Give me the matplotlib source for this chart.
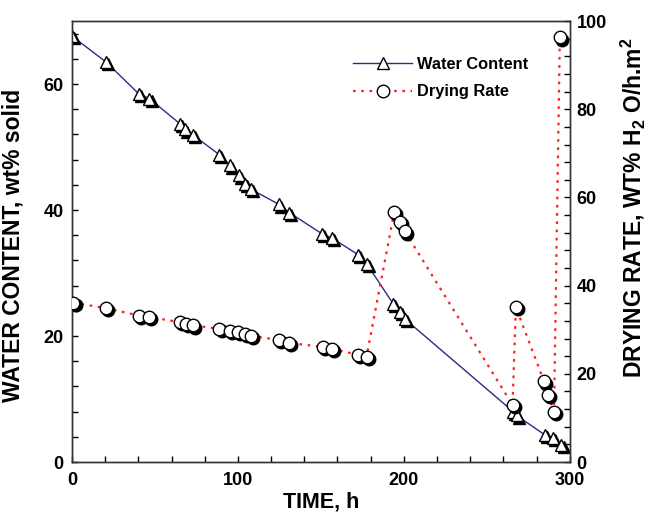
import matplotlib
matplotlib.use('Agg')
import matplotlib.pyplot as plt
from matplotlib.ticker import MultipleLocator
from matplotlib.transforms import offset_copy
from matplotlib.lines import Line2D

plt.rcParams['font.family'] = ['Liberation Sans', 'DejaVu Sans']
plt.rcParams['font.weight'] = 'bold'
plt.rcParams['mathtext.default'] = 'regular'

# water content (left axis)
wc_time = [0, 20.5, 40.4, 46.6, 65, 68, 73, 88.7, 95.2, 100.6, 104.2, 107.8,
           124.7, 130.9, 150.8, 156.4, 172.5, 177.5, 193.6, 197.6, 200.6,
           265.9, 267.9, 285, 290, 295]
wc_value = [67.6, 63.5, 58.4, 57.7, 53.7, 52.8, 51.9, 48.8, 47.1, 45.5, 44.1, 43.3,
            40.9, 39.6, 36.2, 35.6, 32.9, 31.5, 25.1, 23.8, 22.7,
            8.0, 7.4, 4.3, 3.8, 2.7]

# drying rate (right axis)
dr_time = [0.8, 20.5, 40.5, 46.4, 65, 68.7, 72.7, 88.8, 95.2, 100.2, 104.2, 107.8,
           124.7, 130.9, 151.4, 156.4, 172.5, 177.5, 194.2, 197.6, 200.6,
           265.5, 267.5, 284.5, 287, 290.5, 294]
dr_value = [36.1, 34.9, 33.2, 32.9, 31.7, 31.3, 31.0, 30.2, 29.8, 29.5, 29.1, 28.6,
            27.7, 27.0, 26.1, 25.7, 24.3, 23.9, 56.7, 54.4, 52.3,
            12.95, 35.1, 18.3, 15.2, 11.4, 96.3]

fig = plt.figure(figsize=(6.46, 5.13), dpi=100)
ax = fig.add_axes([0.1115, 0.0994, 0.7705, 0.8596])
ax2 = ax.twinx()

def draw_series(axis, x, y, color, ls, lw, marker, ms):
    axis.plot(x, y, color=color, linestyle=ls, linewidth=lw, zorder=1)
    shadow = offset_copy(axis.transData, fig=fig, x=1.6, y=-1.6, units='points')
    axis.plot(x, y, linestyle='none', marker=marker, ms=ms, mfc='black', mec='black',
              transform=shadow, zorder=2)
    axis.plot(x, y, linestyle='none', marker=marker, ms=ms, mfc='white', mec='black',
              mew=1.0, zorder=3)

draw_series(ax, wc_time, wc_value, '#2b2b8c', '-', 1.0, '^', 9)
draw_series(ax2, dr_time, dr_value, '#ff2020', (0, (1.2, 2.5)), 1.6, 'o', 9)

ax.set_xlim(0, 300)
ax.set_ylim(0, 70)
ax2.set_ylim(0, 100)

ax.xaxis.set_major_locator(MultipleLocator(100))
ax.xaxis.set_minor_locator(MultipleLocator(20))
ax.yaxis.set_major_locator(MultipleLocator(20))
ax.yaxis.set_minor_locator(MultipleLocator(4))
ax2.yaxis.set_major_locator(MultipleLocator(20))
ax2.yaxis.set_minor_locator(MultipleLocator(4))

for a in (ax, ax2):
    a.tick_params(which='both', direction='in', length=4, width=1, labelsize=13)
    for s in a.spines.values():
        s.set_linewidth(1.0)
        s.set_color('#333333')
ax.tick_params(axis='x', which='both', top=False, pad=7.5)
ax.tick_params(axis='y', pad=6)
ax2.tick_params(axis='y', pad=5)

ax.set_xlabel('TIME, h', fontsize=15.5, fontweight='bold')
ax.xaxis.set_label_coords(0.5, -0.068)
ax.set_ylabel('WATER CONTENT, wt% solid', fontsize=16.5, fontweight='bold')
ax.yaxis.set_label_coords(-0.095, 0.492)
ax2.set_ylabel('DRYING RATE, WT% H$_2$ O/h.m$^2$', fontsize=16.5, fontweight='bold')
ax2.yaxis.set_label_coords(1.097, 0.576)

handles = [
    Line2D([], [], color='#2b2b8c', lw=1.0, marker='^', ms=9, mfc='white', mec='black'),
    Line2D([], [], color='#ff2020', lw=1.6, ls=(0, (1.2, 2.5)), marker='o', ms=9,
           mfc='white', mec='black'),
]
ax.legend(handles, ['Water Content', 'Drying Rate'], loc='upper left',
          bbox_to_anchor=(0.535, 0.952), frameon=False, fontsize=11.8,
          handlelength=3.6, numpoints=1, labelspacing=0.75, handletextpad=0.3)

fig.savefig('out.png', dpi=100)
